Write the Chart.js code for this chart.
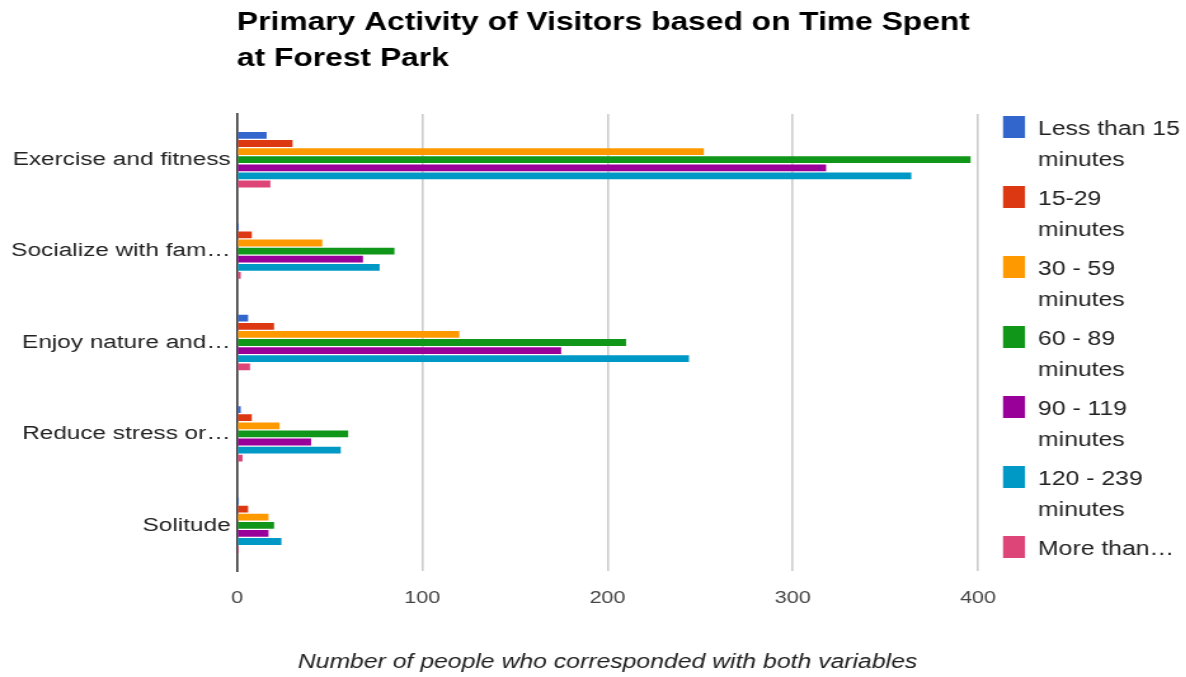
<!DOCTYPE html>
<html>
<head>
<meta charset="utf-8">
<script src="https://cdn.jsdelivr.net/npm/chart.js@4/dist/chart.umd.min.js"></script>
<style>
  html, body { margin: 0; padding: 0; background: #fff; overflow: hidden; }
  #wrap { width: 1186px; height: 677px; position: relative; overflow: hidden; }
  /* the drawing is laid out on a narrower canvas and widened to the page */
  #c { position: absolute; left: 0; top: 0; transform: scaleX(1.27); transform-origin: 0 0; }
</style>
</head>
<body>
<div id="wrap"><canvas id="c" width="934" height="677"></canvas></div>
<script>
// Activities (as shown on the axis) and visit-duration groups
const categories = ['Exercise and fitness', 'Socialize with fam…', 'Enjoy nature and…', 'Reduce stress or…', 'Solitude'];
const seriesNames = ['Less than 15 minutes', '15-29 minutes', '30 - 59 minutes', '60 - 89 minutes', '90 - 119 minutes', '120 - 239 minutes', 'More than…'];
const legendLines = [['Less than 15', 'minutes'], ['15-29', 'minutes'], ['30 - 59', 'minutes'], ['60 - 89', 'minutes'], ['90 - 119', 'minutes'], ['120 - 239', 'minutes'], ['More than…']];
const seriesColors = ['#3366cc', '#dc3912', '#ff9900', '#109618', '#990099', '#0099c6', '#dd4477'];

// Number of people per activity for each duration group
const lessThan15 = [16, 1, 6, 2, 1];
const min15to29 = [30, 8, 20, 8, 6];
const min30to59 = [252, 46, 120, 23, 17];
const min60to89 = [396, 85, 210, 60, 20];
const min90to119 = [318, 68, 175, 40, 17];
const min120to239 = [364, 77, 244, 56, 24];
const moreThan240 = [18, 2, 7, 3, 1];

const xTicks = [0, 100, 200, 300, 400];
const chartTitle = ['Primary Activity of Visitors based on Time Spent', 'at Forest Park'];
const axisTitle = 'Number of people who corresponded with both variables';

const seriesValues = [lessThan15, min15to29, min30to59, min60to89, min90to119, min120to239, moreThan240];

const FONT = '"Liberation Sans", Arial, sans-serif';
const SX = 1.27; // horizontal widening applied to the canvas

const datasets = seriesValues.map((vals, i) => ({
  label: seriesNames[i],
  data: vals,
  backgroundColor: seriesColors[i],
  borderWidth: 0,
  categoryPercentage: 0.62,
  barPercentage: 0.84
}));

// Title drawn left-aligned with the plot area, on two lines
const titlePlugin = {
  id: 'leftTitle',
  afterDraw(chart) {
    const ctx = chart.ctx;
    ctx.save();
    ctx.font = 'bold 25px ' + FONT;
    ctx.fillStyle = '#000';
    ctx.textBaseline = 'alphabetic';
    ctx.textAlign = 'left';
    chartTitle.forEach((line, i) => ctx.fillText(line, chart.chartArea.left, 30 + i * 36));
    ctx.restore();
  }
};

// Legend on the right with wrapped labels
const sideLegend = {
  id: 'sideLegend',
  afterDraw(chart) {
    const ctx = chart.ctx;
    ctx.save();
    ctx.font = '19.5px ' + FONT;
    ctx.textBaseline = 'alphabetic';
    ctx.textAlign = 'left';
    const x0 = 1003 / SX, top0 = 116, step = 70, lineH = 31;
    legendLines.forEach((lines, i) => {
      const y = top0 + i * step;
      ctx.fillStyle = seriesColors[i];
      ctx.fillRect(x0, y, 22 / SX, 22);
      ctx.fillStyle = '#222';
      lines.forEach((t, j) => ctx.fillText(t, 1038 / SX, y + 18.5 + j * lineH));
    });
    ctx.restore();
  }
};

new Chart(document.getElementById('c'), {
  type: 'bar',
  data: { labels: categories, datasets },
  options: {
    indexAxis: 'y',
    responsive: false,
    animation: false,
    layout: { padding: { top: 114, right: 934 - 978 / SX, left: 0, bottom: 0 } },
    plugins: {
      legend: { display: false },
      tooltip: { enabled: false }
    },
    scales: {
      x: {
        min: 0,
        max: 400,
        afterBuildTicks(scale) { scale.ticks = xTicks.map(v => ({ value: v })); },
        afterFit(scale) { scale.height = 106; },
        grid: {
          color: ctx => (ctx.tick && ctx.tick.value === 0) ? 'rgba(0,0,0,0)' : '#cccccc',
          lineWidth: 1.6,
          drawTicks: false
        },
        border: { display: false },
        ticks: {
          padding: 17,
          color: '#444',
          font: { family: FONT, size: 17 }
        },
        title: {
          display: true,
          text: axisTitle,
          color: '#222',
          padding: { top: 10, bottom: 3 },
          font: { family: FONT, size: 19.5, style: 'italic' }
        }
      },
      y: {
        afterFit(scale) { scale.width = 237 / SX; },
        grid: { display: false, drawTicks: false },
        border: { display: true, color: '#333', width: 1.6 },
        ticks: {
          padding: 5,
          color: '#222',
          font: { family: FONT, size: 19.2 }
        }
      }
    }
  },
  plugins: [titlePlugin, sideLegend]
});
</script>
</body>
</html>
